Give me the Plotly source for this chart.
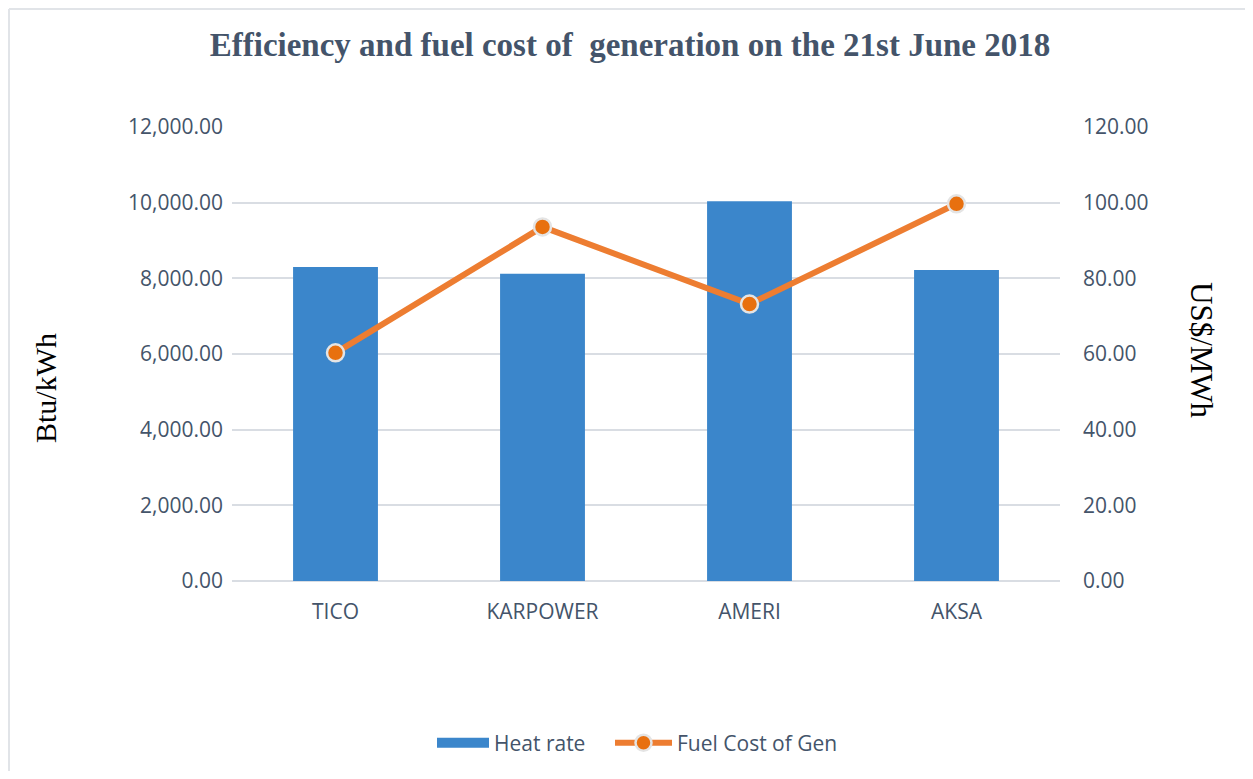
import plotly.graph_objects as go

categories = ["TICO", "KARPOWER", "AMERI", "AKSA"]
heat_rate = [8300, 8120, 10040, 8220]
fuel_cost = [60.3, 93.6, 73.2, 99.7]

BAR_COLOR = "#3b86cb"

# page->paper helpers (page offset of 8px body margin; plot area 828x454)
PW, PH = 828, 454
FIG_W, FIG_H = 1237, 763
def px(X):
    return (X - 232) / PW
def py(Y):
    return (581 - Y) / PH

fig = go.Figure()
fig.add_trace(go.Bar(
    x=categories, y=heat_rate, name="Heat rate",
    marker=dict(color=BAR_COLOR, line=dict(width=0)),
    width=0.41, yaxis="y", showlegend=False,
))
# legend proxy for wide bar swatch
fig.add_trace(go.Scatter(
    x=[None], y=[None], name="Heat rate", mode="lines",
    line=dict(color=BAR_COLOR, width=14), yaxis="y", legend="legend",
))
fig.add_trace(go.Scatter(
    x=categories, y=fuel_cost, name="Fuel Cost of Gen",
    mode="lines+markers",
    line=dict(color="#ed7d31", width=6),
    marker=dict(color="#e8700f", size=17, line=dict(color="#e4e4e4", width=2.5)),
    yaxis="y2", legend="legend2",
))

tickfont = dict(family="Open Sans, Calibri, sans-serif", size=21, color="#44546a")
legfont = dict(family="Open Sans, Calibri, sans-serif", size=21, color="#44546a")
serif = "Liberation Serif, DejaVu Serif, serif"
leg_y = 1 - (743 - 8) / FIG_H
fig.update_layout(
    width=FIG_W, height=FIG_H,
    paper_bgcolor="white", plot_bgcolor="white",
    margin=dict(l=224, r=185, t=119, b=190, autoexpand=False),
    title=dict(
        text="<b>Efficiency and fuel cost of  generation on the 21st June 2018</b>",
        x=px(630), xref="paper", xanchor="center", y=1 - 36 / FIG_H, yanchor="middle",
        font=dict(family=serif, size=33, color="#44546a"),
    ),
    xaxis=dict(tickfont=tickfont, showgrid=False, showline=False, ticks="",
               ticklabelstandoff=16),
    yaxis=dict(range=[0, 12000], dtick=2000, tickformat=",.2f", tickfont=tickfont,
               gridcolor="#d9dde3", gridwidth=1.5, zeroline=True, zerolinecolor="#d9dde3",
               zerolinewidth=1.5, showline=False, ticks="", ticklabelstandoff=8),
    yaxis2=dict(range=[0, 120], dtick=20, tickformat=".2f", tickfont=tickfont,
                overlaying="y", side="right", showgrid=False, zeroline=False,
                showline=False, ticks="", ticklabelstandoff=22),
    bargap=0.59,
    showlegend=True,
    legend=dict(orientation="h", xref="paper", x=px(432), xanchor="left",
                yref="container", y=leg_y, yanchor="middle",
                font=legfont, itemwidth=52),
    legend2=dict(orientation="h", xref="paper", x=px(610), xanchor="left",
                 yref="container", y=leg_y, yanchor="middle",
                 font=legfont, itemwidth=57),
    annotations=[
        dict(text="Btu/kWh", textangle=-90, x=px(45), xref="paper", y=py(388), yref="paper",
             xanchor="center", yanchor="middle", showarrow=False,
             font=dict(family=serif, size=30, color="#000000")),
        dict(text="US$/MWh", textangle=90, x=px(1202), xref="paper", y=py(350), yref="paper",
             xanchor="center", yanchor="middle", showarrow=False,
             font=dict(family=serif, size=31, color="#000000")),
    ],
    shapes=[
        dict(type="line", xref="paper", yref="paper", x0=px(9), x1=px(9), y0=py(779), y1=py(9),
             line=dict(color="#e1e4e8", width=2)),
        dict(type="line", xref="paper", yref="paper", x0=px(9), x1=px(1252), y0=py(9), y1=py(9),
             line=dict(color="#e1e4e8", width=2)),
    ],
)

fig.write_html("out.html")
